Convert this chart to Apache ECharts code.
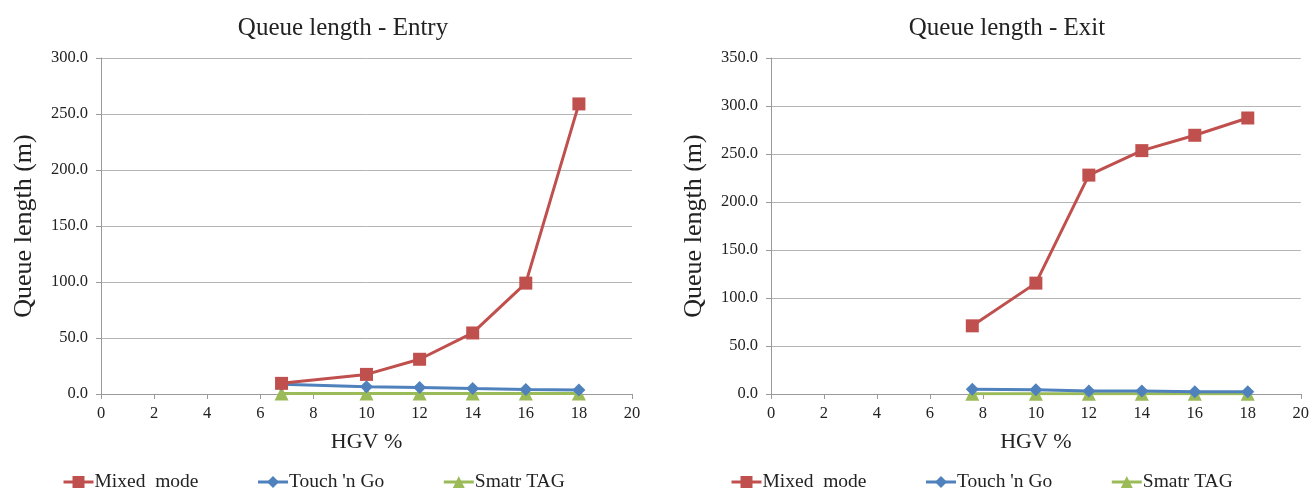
<!DOCTYPE html>
<html>
<head>
<meta charset="utf-8">
<script src="https://cdn.jsdelivr.net/npm/echarts@6/dist/echarts.min.js"></script>
<style>
  html, body { margin: 0; padding: 0; background: #fff; }
  #chart { width: 1312px; height: 490px; }
</style>
</head>
<body>
<div id="chart"></div>
<script>
// HGV share (%) for each simulated scenario
const hgvEntry = [6.8, 10, 12, 14, 16, 18];
const hgvExit = [7.6, 10, 12, 14, 16, 18];

// Queue length at the entry (m)
const entryMixed = [9.5, 17.5, 31, 54.5, 99, 259];
const entryTouch = [8.7, 6.5, 5.9, 4.8, 4.1, 3.6];
const entrySmart = [0.4, 0.4, 0.4, 0.4, 0.4, 0.4];

// Queue length at the exit (m)
const exitMixed = [71, 115.5, 228, 253.5, 269.5, 287.5];
const exitTouch = [5.0, 4.3, 3.0, 3.0, 2.3, 2.3];
const exitSmart = [0.3, 0.3, 0.3, 0.3, 0.3, 0.3];

const seriesNames = ['Mixed  mode', "Touch 'n Go", 'Smatr TAG'];
const chartTitles = ['Queue length - Entry', 'Queue length - Exit'];
const yAxisName = 'Queue length (m)';
const xAxisName = 'HGV %';

const FONT = '"Liberation Serif", "Times New Roman", serif';
const RED = '#C0504D', BLUE = '#4F81BD', GREEN = '#9BBB59';
const TEXT = '#222';

const pairs = (xs, ys) => xs.map((x, i) => [x, ys[i]]);

function xAxis(gridIndex) {
  return {
    type: 'value', gridIndex, min: 0, max: 20, interval: 2,
    name: xAxisName, nameLocation: 'middle', nameGap: 37,
    nameTextStyle: { fontFamily: FONT, fontSize: 22, color: TEXT },
    axisLine: { show: true, lineStyle: { color: '#9a9a9a', width: 1 } },
    axisTick: { show: true, length: 5, lineStyle: { color: '#9a9a9a' } },
    axisLabel: { fontFamily: FONT, fontSize: 16.5, color: TEXT, margin: 11 },
    splitLine: { show: false }
  };
}

function yAxis(gridIndex, max) {
  return {
    type: 'value', gridIndex, min: 0, max, interval: 50,
    name: yAxisName, nameLocation: 'middle', nameGap: 64,
    nameTextStyle: { fontFamily: FONT, fontSize: 26, color: TEXT },
    axisLine: { show: true, lineStyle: { color: '#9a9a9a', width: 1 } },
    axisTick: { show: true, length: 5, lineStyle: { color: '#9a9a9a' } },
    axisLabel: { fontFamily: FONT, fontSize: 16.5, color: TEXT, margin: 13,
                 formatter: v => v.toFixed(1) },
    splitLine: { show: true, lineStyle: { color: '#b4b4b4', width: 1 } }
  };
}

function lineSeries(name, idx, data, color, symbol, size) {
  return {
    name, type: 'line', xAxisIndex: idx, yAxisIndex: idx,
    data, symbol, symbolSize: size, showSymbol: true,
    lineStyle: { color, width: 3 },
    itemStyle: { color },
    animation: false, z: symbol === 'rect' ? 4 : (symbol === 'diamond' ? 3 : 2)
  };
}

function legend(left, itemGap) {
  return {
    left, top: 467, itemGap, itemWidth: 30, itemHeight: 15,
    data: seriesNames,
    lineStyle: { width: 3 },
    textStyle: { fontFamily: FONT, fontSize: 19.5, color: TEXT, padding: [0, 0, 0, -4] }
  };
}

const chart = echarts.init(document.getElementById('chart'), null, { renderer: 'canvas' });
chart.setOption({
  backgroundColor: '#fff',
  animation: false,
  title: [
    { text: chartTitles[0], left: 338, top: 11, textAlign: 'center',
      textStyle: { fontFamily: FONT, fontSize: 25, fontWeight: 'normal', color: TEXT } },
    { text: chartTitles[1], left: 1002, top: 11, textAlign: 'center',
      textStyle: { fontFamily: FONT, fontSize: 25, fontWeight: 'normal', color: TEXT } }
  ],
  legend: [legend(57, 58), legend(725, 58)],
  grid: [
    { left: 101, right: 680, top: 58, bottom: 96 },
    { left: 771, right: 10, top: 58, bottom: 96 }
  ],
  xAxis: [xAxis(0), xAxis(1)],
  yAxis: [yAxis(0, 300), yAxis(1, 350)],
  series: [
    lineSeries(seriesNames[2], 0, pairs(hgvEntry, entrySmart), GREEN, 'triangle', 14),
    lineSeries(seriesNames[1], 0, pairs(hgvEntry, entryTouch), BLUE, 'diamond', 13),
    lineSeries(seriesNames[0], 0, pairs(hgvEntry, entryMixed), RED, 'rect', 13),
    lineSeries(seriesNames[2], 1, pairs(hgvExit, exitSmart), GREEN, 'triangle', 14),
    lineSeries(seriesNames[1], 1, pairs(hgvExit, exitTouch), BLUE, 'diamond', 13),
    lineSeries(seriesNames[0], 1, pairs(hgvExit, exitMixed), RED, 'rect', 13)
  ]
});
</script>
</body>
</html>
